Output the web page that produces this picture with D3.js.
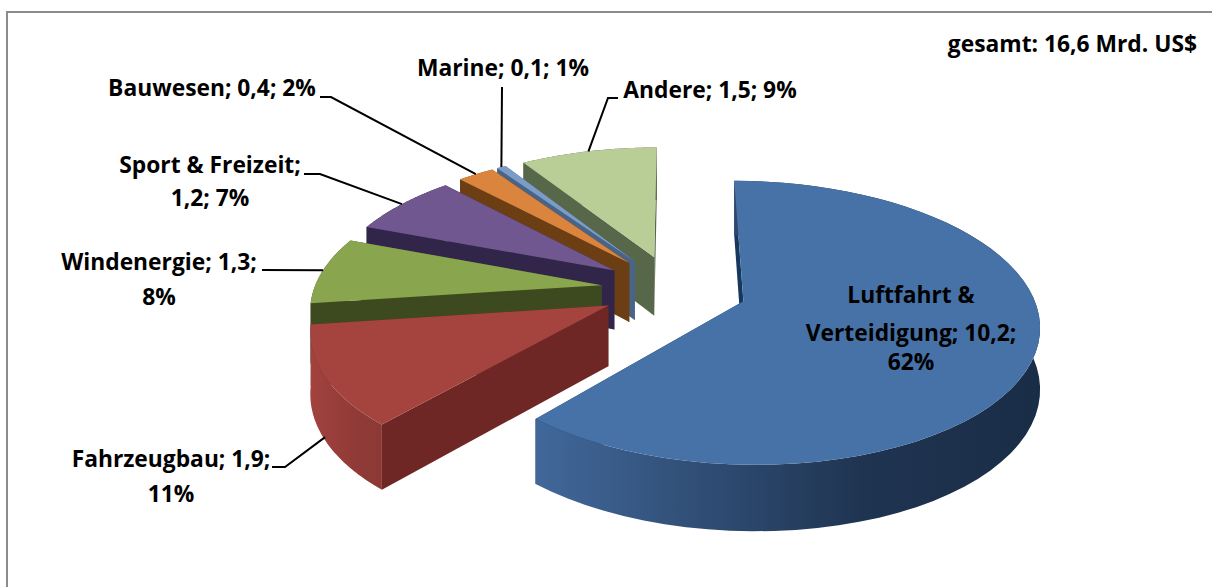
<!DOCTYPE html>
<html><head><meta charset="utf-8">
<script src="https://cdn.jsdelivr.net/npm/d3@7"></script>
<style>html,body{margin:0;padding:0;background:#fff;overflow:hidden}svg{display:block}text{font-family:"Open Sans",Lato,sans-serif;font-weight:700;fill:#000}</style>
</head><body><svg id="c" width="1212" height="587"></svg>
<script>
const categories=["Luftfahrt & Verteidigung","Fahrzeugbau","Windenergie","Sport & Freizeit","Bauwesen","Marine","Andere"];
const values=[10.2,1.9,1.3,1.2,0.4,0.1,1.5];
const percents=[62,11,8,7,2,1,9];
const topColors=["#4672a8","#a5443f","#89a54e","#71578f","#db843d","#7c9cc8","#b9cd96"];
const wallColors=["#17375e","#6e2725","#3d4a1f","#32254a","#6b3e14","#4a6488","#57674a"];
const rimFrom=["#41689a","#a3423e","#3d4a1f","#32254a","#6b3e14","#4a6488","#57674a"];
const rimTo=["#1a2d47","#8c3935","#3d4a1f","#32254a","#6b3e14","#4a6488","#57674a"];
const title="gesamt: 16,6 Mrd. US$";

const CX=674,CY=289,R=283,EXPL=72,SX=1.016,SY=0.477,P=0.00053,DEPTH=60,DP=0.00035,FONT=22.8;
const svg=d3.select("#c");
const defs=svg.append("defs");
svg.append("rect").attr("x",7).attr("y",12).attr("width",1300).attr("height",700).attr("fill","#fff").attr("stroke","#8c8c8c").attr("stroke-width",2);

function proj(u,v,z){const s=1/(1-P*v);return [CX+SX*u*s,CY+SY*v*s+z*DEPTH*(1+DP*v)];}
const pie=d3.pie().sort(null).value(d=>d)(values);
const poly=d3.line();
const slices=pie.map((d,i)=>{
  const mid=(d.startAngle+d.endAngle)/2;
  const ou=EXPL*Math.sin(mid),ov=-EXPL*Math.cos(mid);
  const angles=d3.range(0,61).map(k=>d.startAngle+(d.endAngle-d.startAngle)*k/60);
  const rim=z=>angles.map(a=>proj(ou+R*Math.sin(a),ov-R*Math.cos(a),z));
  const apex=z=>proj(ou,ov,z);
  const at=(a,z)=>proj(ou+R*Math.sin(a),ov-R*Math.cos(a),z);
  return {i,d,mid,rim,apex,at};
});

[6,5,4,3,2,1,0].forEach(i=>{
  const s=slices[i],g=svg.append("g");
  const id="rim"+i;
  const xs=s.rim(0).map(p=>p[0]);
  const grad=defs.append("linearGradient").attr("id",id).attr("gradientUnits","userSpaceOnUse")
    .attr("x1",d3.min(xs)).attr("x2",d3.max(xs)).attr("y1",0).attr("y2",0);
  grad.append("stop").attr("offset",0).attr("stop-color",rimFrom[i]);
  grad.append("stop").attr("offset",0.65).attr("stop-color",d3.interpolateRgb(rimFrom[i],rimTo[i])(0.88));
  grad.append("stop").attr("offset",1).attr("stop-color",rimTo[i]);
  const wall=(a,b)=>poly([s.apex(0),a,b,s.apex(1)])+"Z";
  g.append("path").attr("d",wall(s.at(s.d.startAngle,0),s.at(s.d.startAngle,1))).attr("fill",wallColors[i]);
  g.append("path").attr("d",wall(s.at(s.d.endAngle,0),s.at(s.d.endAngle,1))).attr("fill",wallColors[i]);
  g.append("path").attr("d",poly([...s.rim(0),...s.rim(1).reverse()])+"Z").attr("fill",`url(#${id})`);
  g.append("path").attr("d",poly([s.apex(0),...s.rim(0)])+"Z").attr("fill",topColors[i]);
});

const fmt=v=>String(v).replace(".",",");
const labelLayout=[
 {lines:["Luftfahrt &","Verteidigung; "+fmt(values[0])+";",percents[0]+"%"],x:911,y:[303,341,370]},
 {lines:["Fahrzeugbau; "+fmt(values[1])+";",percents[1]+"%"],x:171,y:[467,502],from:[272,467],knee:[285,467],rimZ:0.95},
 {lines:["Windenergie; "+fmt(values[2])+";",percents[2]+"%"],x:159,y:[270,305],from:[262,270],rimZ:0},
 {lines:["Sport & Freizeit;",fmt(values[3])+"; "+percents[3]+"%"],x:210,y:[173,206],from:[304,174],knee:[320,174],rimZ:0},
 {lines:["Bauwesen; "+fmt(values[4])+"; "+percents[4]+"%"],x:212,y:[96],from:[320,97],knee:[331,97],rimZ:0},
 {lines:["Marine; "+fmt(values[5])+"; "+percents[5]+"%"],x:503,y:[76],from:[502,87],rimZ:0},
 {lines:["Andere; "+fmt(values[6])+"; "+percents[6]+"%"],x:710,y:[98],from:[618,98],knee:[608,98],rimZ:0}
];
labelLayout.forEach((l,i)=>{
  l.lines.forEach((t,k)=>svg.append("text").attr("x",l.x).attr("y",l.y[k]).attr("text-anchor","middle").attr("font-size",FONT).text(t));
  if(l.from){
    const end=slices[i].at(slices[i].mid,l.rimZ);
    const pts=[l.from];if(l.knee)pts.push(l.knee);pts.push(end);
    svg.append("path").attr("d",poly(pts)).attr("fill","none").attr("stroke","#000").attr("stroke-width",2);
  }
});
svg.append("text").attr("x",1197).attr("y",52).attr("text-anchor","end").attr("font-size",FONT).text(title);
</script></body></html>
